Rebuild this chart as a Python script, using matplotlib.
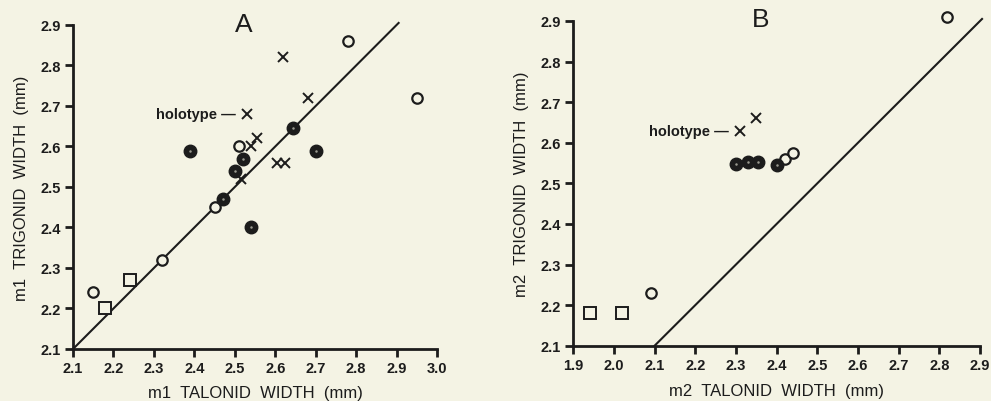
import matplotlib.pyplot as plt

# Painel A: m1
a_open_x = [2.78, 2.95, 2.51, 2.45, 2.32, 2.15]
a_open_y = [2.86, 2.72, 2.60, 2.45, 2.32, 2.24]
a_sq_x = [2.18, 2.24]
a_sq_y = [2.20, 2.27]
a_fill_x = [2.39, 2.645, 2.70, 2.52, 2.50, 2.47, 2.54]
a_fill_y = [2.59, 2.645, 2.59, 2.57, 2.54, 2.47, 2.40]
a_x_x = [2.62, 2.68, 2.53, 2.555, 2.54, 2.605, 2.625, 2.515]
a_x_y = [2.82, 2.72, 2.68, 2.62, 2.60, 2.56, 2.56, 2.52]
a_holo = (2.53, 2.68)
a_xticks = [2.1, 2.2, 2.3, 2.4, 2.5, 2.6, 2.7, 2.8, 2.9, 3.0]
a_yticks = [2.1, 2.2, 2.3, 2.4, 2.5, 2.6, 2.7, 2.8, 2.9]

# Painel B: m2
b_open_x = [2.82, 2.09, 2.42, 2.44]
b_open_y = [2.91, 2.23, 2.56, 2.575]
b_sq_x = [1.94, 2.02]
b_sq_y = [2.18, 2.18]
b_fill_x = [2.30, 2.33, 2.355, 2.40]
b_fill_y = [2.548, 2.552, 2.552, 2.546]
b_x_x = [2.31, 2.35]
b_x_y = [2.63, 2.66]
b_holo = (2.31, 2.63)
b_xticks = [1.9, 2.0, 2.1, 2.2, 2.3, 2.4, 2.5, 2.6, 2.7, 2.8, 2.9]
b_yticks = [2.1, 2.2, 2.3, 2.4, 2.5, 2.6, 2.7, 2.8, 2.9]

fundo = '#f4f3e4'
tinta = '#1c1c1c'
plt.rcParams['font.family'] = ['Liberation Sans', 'DejaVu Sans']

fig = plt.figure(figsize=(9.91, 4.02), dpi=100, facecolor=fundo)
ax_a = fig.add_axes([0.0737, 0.1294, 0.3673, 0.806])
ax_b = fig.add_axes([0.5785, 0.1376, 0.4104, 0.8077])


def desenha(ax, ox, oy, sx, sy, fx, fy, xx, xy, holo, xt, yt, linha, xl, yl, pad_x):
    ax.set_facecolor(fundo)
    ax.plot(linha, linha, color=tinta, lw=1.5, clip_on=False, zorder=2)
    ax.plot(ox, oy, 'o', ms=7.5, mfc=fundo, mec=tinta, mew=1.6, clip_on=False, zorder=3)
    ax.plot(sx, sy, 's', ms=8, mfc=fundo, mec=tinta, mew=1.4, clip_on=False, zorder=3)
    ax.plot(fx, fy, 'o', ms=9, mfc=tinta, mec=tinta, mew=1, clip_on=False, zorder=4)
    ax.plot(fx, fy, 'o', ms=1.8, mfc='#9a9a90', mec='none', clip_on=False, zorder=5)
    ax.plot(xx, xy, 'x', ms=7, mec=tinta, mew=1.4, clip_on=False, zorder=4)
    ax.annotate('holotype \u2014 ', xy=holo, xytext=(-5, 0), textcoords='offset points',
                ha='right', va='center', fontsize=10.5, fontweight='bold', color=tinta)
    ax.set_xlim(xt[0], xt[-1])
    ax.set_ylim(yt[0], yt[-1])
    ax.set_xticks(xt)
    ax.set_yticks(yt)
    ax.set_xticklabels(['%.1f' % v for v in xt])
    ax.set_yticklabels(['%.1f' % v for v in yt])
    for s in ['top', 'right']:
        ax.spines[s].set_visible(False)
    for s in ['left', 'bottom']:
        ax.spines[s].set_linewidth(2)
        ax.spines[s].set_color(tinta)
    ax.tick_params(direction='out', length=6, width=2, color=tinta,
                   labelsize=10.5, labelcolor=tinta, pad=3)
    for lab in ax.get_xticklabels() + ax.get_yticklabels():
        lab.set_fontweight('bold')
    ax.set_xlabel(xl, fontsize=12, color=tinta, labelpad=pad_x)
    ax.set_ylabel(yl, fontsize=12, color=tinta, labelpad=8)


desenha(ax_a, a_open_x, a_open_y, a_sq_x, a_sq_y, a_fill_x, a_fill_y, a_x_x, a_x_y,
        a_holo, a_xticks, a_yticks, [2.1, 2.905],
        'm1  TALONID  WIDTH  (mm)', 'm1  TRIGONID  WIDTH  (mm)', 7)
desenha(ax_b, b_open_x, b_open_y, b_sq_x, b_sq_y, b_fill_x, b_fill_y, b_x_x, b_x_y,
        b_holo, b_xticks, b_yticks, [2.1, 2.905],
        'm2  TALONID  WIDTH  (mm)', 'm2  TRIGONID  WIDTH  (mm)', 8)

# letras dos painéis
fig.text(244 / 991, 1 - 25 / 402, 'A', fontsize=19, color=tinta, ha='center', va='center')
fig.text(761 / 991, 1 - 20 / 402, 'B', fontsize=19, color=tinta, ha='center', va='center')

fig.savefig('out.png', dpi=100, facecolor=fundo)
